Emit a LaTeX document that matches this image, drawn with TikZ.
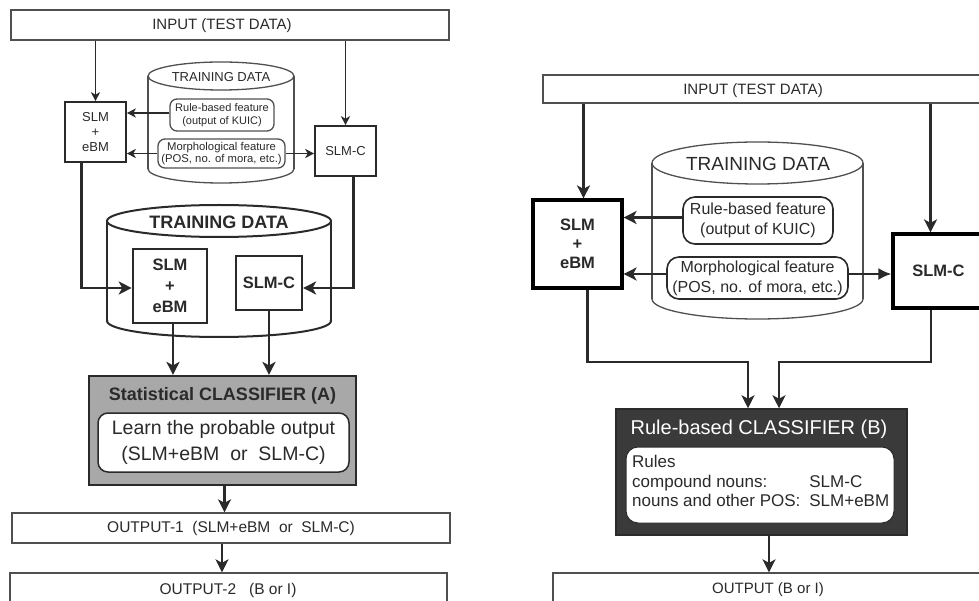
\documentclass[tikz,border=0pt]{standalone}
\usepackage{fontspec}
\setmainfont{Liberation Sans}
\usetikzlibrary{arrows.meta,calc}
\definecolor{ink}{HTML}{2A2A2A}
\definecolor{softline}{HTML}{505050}
\definecolor{midgray}{HTML}{A8A8A8}
\definecolor{darkfill}{HTML}{3A3A3A}
\newcommand{\fsz}[2]{\fontsize{#1}{#2}\selectfont}
\begin{document}
\begin{tikzpicture}[x=1pt,y=-1pt,
  every node/.style={text=ink, inner sep=0pt, align=center},
  thinbox/.style={draw=softline, line width=1.3pt, fill=white},
  plainbox/.style={draw=ink, line width=1.6pt},
  roundbox/.style={draw=softline, line width=1.3pt, rounded corners=7pt, fill=white},
  sarr/.style={draw=ink, line width=1.6pt, -{Stealth[length=9pt,width=9pt,inset=2.5pt]}},
  arr/.style={draw=ink, line width=2.2pt, -{Stealth[length=13pt,width=13pt,inset=3.5pt]}},
  cyl/.style={draw=softline, line width=1.3pt}
]
\clip (0,0) rectangle (979,601);
\fill[white] (0,0) rectangle (979,601);

% ================= LEFT PANEL =================
\node[thinbox, minimum width=438pt, minimum height=30pt] (inL) at (230,25) {};
\node[font=\fsz{15}{18}] (inLt) at (222,26) {INPUT (TEST DATA)};

% small cylinder
\begin{scope}[cyl]
  \draw (148,76) -- (148,169);
  \draw (294,76) -- (294,169);
  \begin{scope}
    \clip (140,169) rectangle (300,190);
    \draw (221,169) ellipse [x radius=73, y radius=14];
  \end{scope}
  \draw (221,76) ellipse [x radius=73, y radius=14];
\end{scope}
\node[font=\fsz{13}{15}] (tdS) at (221,77) {TRAINING DATA};

\node[roundbox, minimum width=104pt, minimum height=32pt, font=\fsz{11}{12.5}] (ruleS) at (222,115) {Rule-based feature\\(output of KUIC)};
\node[roundbox, minimum width=127pt, minimum height=29pt, font=\fsz{11.3}{12.5}] (morphS) at (221.5,153.5) {Morphological feature\\(POS, no. of mora, etc.)};

\node[plainbox, minimum width=61pt, minimum height=60pt, font=\fsz{13}{15}] (slmS) at (95.5,132) {SLM\\+\\eBM};
\node[plainbox, minimum width=61pt, minimum height=50pt, font=\fsz{13}{15}] (slmcS) at (345.5,151) {SLM-C};

\draw[sarr] (inL.south -| slmS.north) -- (slmS.north);
\draw[sarr] (inL.south -| slmcS.north) -- (slmcS.north);
\draw[sarr] ([yshift=2pt]ruleS.west) -- ([yshift=2pt]ruleS.west -| slmS.east);
\draw[sarr] (morphS.west) -- (morphS.west -| slmS.east);
\draw[sarr] (morphS.east) -- (morphS.east -| slmcS.west);

% big cylinder
\begin{scope}[draw=ink, line width=2pt]
  \draw (107,221) -- (107,321);
  \draw (331,221) -- (331,321);
  \begin{scope}
    \clip (100,321) rectangle (340,345);
    \draw (219,321) ellipse [x radius=112, y radius=16];
  \end{scope}
  \draw (219,221) ellipse [x radius=112, y radius=16];
\end{scope}
\node[font=\bfseries\fsz{18}{20}] (tdB) at (219,222) {TRAINING DATA};

\node[draw=ink, line width=2.6pt, minimum width=74pt, minimum height=74pt, font=\bfseries\fsz{16.5}{21}] (slmB) at (170,286) {SLM\\+\\eBM};
\node[draw=ink, line width=2.2pt, minimum width=66pt, minimum height=54pt, font=\bfseries\fsz{16.5}{20}] (slmcB) at (269,283) {SLM-C};

\draw[arr] ([xshift=-14pt]slmS.south) |- ([yshift=-2pt]slmB.west);
\draw[arr] ([xshift=8pt]slmcS.south) |- ([yshift=-5pt]slmcB.east);

% classifier A
\node[draw=ink, line width=2.2pt, fill=midgray, minimum width=267pt, minimum height=109pt] (clsA) at (222.5,430.5) {};
\node[font=\bfseries\fsz{18}{20}] (clsAt) at (222.5,396) {Statistical CLASSIFIER (A)};
\node[draw=ink, line width=1.5pt, rounded corners=10pt, fill=white, minimum width=251pt, minimum height=59pt, font=\fsz{19.5}{26}] (innerA) at (223.5,442.5) {Learn the probable output\\(SLM+eBM\ \ or\ \ SLM-C)};

\draw[arr] ([xshift=3pt]slmB.south) -- ([xshift=3pt]slmB.south |- clsA.north);
\draw[arr] (slmcB.south) -- (slmcB.south |- clsA.north);

\node[thinbox, minimum width=438pt, minimum height=30pt, font=\fsz{15.5}{18}] (out1) at (231,528) {OUTPUT-1\ \ (SLM+eBM\ \ or\ \ SLM-C)};
\node[thinbox, minimum width=437pt, minimum height=47pt] (out2) at (228.5,596.5) {};
\node[font=\fsz{15.5}{18}] (out2t) at (228,590) {OUTPUT-2\ \ \ (B or I)};

\draw[arr] ([xshift=2pt]clsA.south) -- ([xshift=2pt]clsA.south |- out1.north);
\draw[arr] (out1.south -| inLt.south) -- (out2.north -| inLt.south);

% ================= RIGHT PANEL =================
\node[thinbox, minimum width=447pt, minimum height=28pt] (inR) at (766.5,89) {};
\node[font=\fsz{15}{18}] (inRt) at (753,91) {INPUT (TEST DATA)};

\begin{scope}[cyl]
  \draw (652,163) -- (652,299);
  \draw (863,163) -- (863,299);
  \begin{scope}
    \clip (640,299) rectangle (875,330);
    \draw (757.5,299) ellipse [x radius=105.5, y radius=20];
  \end{scope}
  \draw (757.5,163) ellipse [x radius=105.5, y radius=21];
\end{scope}
\node[font=\fsz{19}{22}] (tdR) at (758,164) {TRAINING DATA};

\node[draw=ink, line width=1.6pt, rounded corners=12pt, fill=white, minimum width=150pt, minimum height=47pt, font=\fsz{16}{20}] (ruleR) at (758,220.5) {Rule-based feature\\(output of KUIC)};
\node[draw=ink, line width=1.6pt, rounded corners=12pt, fill=white, minimum width=181pt, minimum height=42pt, font=\fsz{16}{20}] (morphR) at (757.5,278) {Morphological feature\\(POS, no. of mora, etc.)};

\node[draw=black, line width=3.2pt, minimum width=89pt, minimum height=88pt, font=\bfseries\fsz{16.5}{19}] (slmR) at (577.5,244) {SLM\\+\\eBM};
\node[draw=black, line width=3.2pt, minimum width=91pt, minimum height=74pt, font=\bfseries\fsz{16.5}{19}] (slmcR) at (938.5,271) {SLM-C};

\draw[arr] ([xshift=6pt]slmR.north |- inR.south) -- ([xshift=6pt]slmR.north);
\draw[arr] ([xshift=-8pt]slmcR.north |- inR.south) -- ([xshift=-8pt]slmcR.north);
\draw[arr] ([yshift=3pt]ruleR.west) -- ([yshift=3pt]ruleR.west -| slmR.east);
\draw[arr] ([yshift=4pt]morphR.west) -- ([yshift=4pt]morphR.west -| slmR.east);
\draw[arr, -{Latex[length=13pt,width=12pt]}] ([yshift=4pt]morphR.east) -- ([yshift=4pt]morphR.east -| slmcR.west);

% classifier B
\node[draw=ink, line width=1.5pt, fill=darkfill, minimum width=291pt, minimum height=126pt] (clsB) at (761.5,472) {};
\node[text=white, font=\fsz{20}{22}] (clsBt) at (759,429) {Rule-based CLASSIFIER (B)};
\node[draw=ink, line width=1pt, rounded corners=12pt, fill=white, minimum width=268pt, minimum height=76pt] (innerB) at (760,485) {};
\node[anchor=west, font=\fsz{17}{20}] (rulesB) at (632,483) {\begin{tabular}{@{}l@{\hspace{9pt}}l@{}}Rules & \\[-0.5pt] compound nouns: & SLM-C\\[-0.5pt] nouns and other POS: & SLM+eBM\end{tabular}};

\draw[arr] ([xshift=10pt]slmR.south) -- ++(0,72) -| ([xshift=-13.5pt]clsB.north);
\draw[arr] ([xshift=-7.5pt]slmcR.south) -- ++(0,52) -| ([xshift=17.5pt]clsB.north);

\node[thinbox, minimum width=437pt, minimum height=47pt] (outR) at (771.5,596.5) {};
\node[font=\fsz{15}{18}] (outRt) at (768,590) {OUTPUT (B or I)};

\draw[arr] ([xshift=7.5pt]clsB.south) -- ([xshift=7.5pt]clsB.south |- outR.north);
\end{tikzpicture}
\end{document}
